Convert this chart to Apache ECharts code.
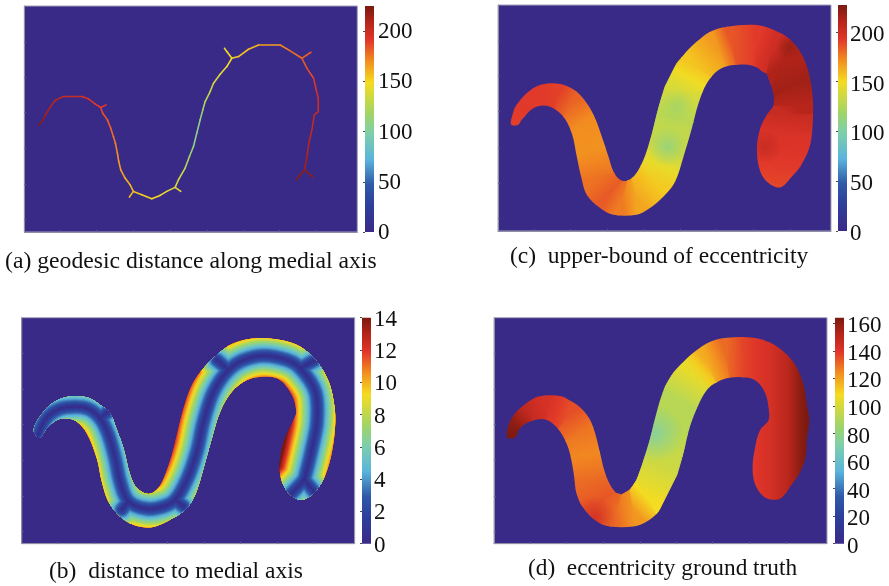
<!DOCTYPE html>
<html><head><meta charset="utf-8">
<script src="https://cdn.jsdelivr.net/npm/echarts@6/dist/echarts.min.js"></script>
<style>html,body{margin:0;background:#fff}#c{width:889px;height:586px}</style>
</head><body><div id="c"></div>
<script>
// colour scale: position on the bar, colour
const colormap = [[0,'#3a2a88'],[0.12,'#2d3f9c'],[0.21,'#2f5aa8'],[0.32,'#5ab4dc'],[0.44,'#7fd0a8'],[0.515,'#9cd46c'],[0.66,'#f5dc20'],[0.76,'#f28a20'],[0.85,'#e0352a'],[0.93,'#b4241a'],[1,'#7a1a10']];
const plotXTicks = [108,217,327,437,547,655,765,875];
const plotYTicks = [108,215,320,428,535,642];

// (a) medial axis: x, y, geodesic distance
const aTrunk = [[115,377,222],[130,360,218],[135,347,215],[150,323,210],[163,305,207],[168,300,206],[190,290,203],[245,290,196],[265,297,194],[285,312,191],[302,323,189],[308,340,186],[322,360,183],[332,385,180],[340,410,177],[346,430,174],[352,460,170],[356,485,167],[362,510,165],[375,535,162],[390,555,159],[400,575,157],[425,585,154],[455,597,151],[480,587,147],[500,575,144],[525,563,139],[535,540,135],[555,505,128],[568,470,120],[580,440,112],[590,400,104],[600,360,110],[608,330,117],[615,305,122],[630,275,130],[640,250,134],[660,223,140],[680,200,146],[695,175,151],[715,170,154],[745,148,157],[775,135,161],[840,135,170],[865,150,175],[905,175,180],[920,205,184],[940,235,190],[948,270,195],[954,295,198],[954,335,200],[942,345,202],[935,390,204],[927,425,206],[920,470,210],[913,510,216]];
const aBranches = [
  [[913,510,216],[888,540,223]],[[913,510,216],[938,532,222]],
  [[302,323,189],[318,315,192]],
  [[400,575,157],[388,592,160]],
  [[525,563,139],[542,575,143]],
  [[695,175,151],[680,155,147],[673,145,146]],
  [[905,175,180],[932,157,184]]
];
const aTicks = [0,50,100,150,200];

// (b) medial axis and the distance bands drawn round it
const bTrunk = [[112,395],[135,345],[165,318],[200,307],[260,310],[300,340],[325,390],[345,460],[360,530],[385,590],[440,612],[490,605],[525,585],[560,525],[590,440],[610,350],[640,260],[685,195],[730,165],[790,152],[860,165],[900,190],[945,260],[950,350],[935,430],[912,525]];
const bBranches = [
  [[912,525],[870,570]],[[912,525],[945,565]],
  [[300,340],[325,320]],
  [[385,590],[365,615]],
  [[525,585],[550,605]],
  [[685,195],[650,165]],
  [[900,190],[945,165]]
];
const bLevels = [16,15,14,13.5,13,12.5,12,11.5,11,10.5,10,9.5,9,8.5,8,7.5,7,6.5,6,5.5,5,4.5,4,3.5,3,2.5,2,1.5,1,0.5,0.2];
const bOutline = [[103,385],[103,365],[120,335],[150,300],[195,277],[260,277],[300,300],[330,325],[350,375],[370,430],[390,510],[410,550],[445,568],[475,550],[495,510],[515,450],[530,390],[550,310],[575,240],[610,190],[650,150],[700,115],[770,100],[840,105],[900,125],[950,170],[985,230],[1000,290],[1005,350],[995,440],[975,510],[945,560],[905,585],[870,570],[845,530],[838,480],[850,410],[880,345],[888,320],[875,270],[840,225],[800,215],[740,225],[695,260],[660,320],[635,400],[610,490],[585,570],[555,615],[500,650],[450,668],[400,660],[360,635],[325,590],[305,530],[290,460],[260,385],[230,350],[200,340],[170,345],[140,370],[120,398]];
const bTicks = [0,2,4,6,8,10,12,14];

// (c) outline, bands of equal value (x1,y1,x2,y2,value), soft spots (x,y,radius,value)
const cOutline = [[94,375],[95,345],[110,315],[140,280],[180,255],[240,252],[285,272],[320,310],[345,355],[365,410],[385,470],[400,515],[420,540],[440,543],[465,525],[490,480],[510,420],[530,340],[550,265],[575,210],[610,165],[650,125],[690,95],[740,80],[830,75],[880,90],[925,115],[965,165],[988,230],[998,310],[995,400],[985,450],[960,500],[935,530],[900,563],[865,550],[840,515],[830,450],[840,385],[860,345],[880,315],[875,265],[850,220],[820,198],[760,195],[715,210],[680,250],[655,310],[635,385],[610,470],[585,545],[550,590],[505,628],[470,645],[400,645],[360,625],[320,585],[303,530],[290,470],[275,400],[245,345],[200,318],[160,325],[125,360],[115,375]];
const cBands = [[85,395,125,385,190],[110,305,150,345,192],[180,245,195,330,192],[245,240,225,330,190],[295,265,250,355,182],[350,340,270,395,172],[385,440,280,460,170],[410,520,295,545,178],[440,535,340,620,184],[445,535,410,660,176],[455,530,480,655,165],[480,495,560,600,155],[510,420,620,480,135],[530,340,650,370,128],[555,260,670,280,140],[600,170,700,235,156],[685,90,745,210,168],[740,70,770,200,185],[830,65,825,205,192],[885,85,860,220,200],[935,110,875,260,212],[990,210,880,300,216],[1005,315,880,320,210],[1005,345,835,345,203],[1000,400,825,400,196],[990,500,825,500,192],[940,570,860,570,188]];
const cSpots = [[562,440,60,112],[590,320,55,120],[855,440,50,204],[925,140,40,218]];
const cTicks = [0,50,100,150,200];

// (d)
const dOutline = [[82,398],[82,375],[92,345],[110,320],[135,298],[175,275],[240,273],[275,290],[305,312],[330,345],[345,385],[360,445],[372,495],[385,530],[405,560],[425,563],[445,555],[465,530],[480,495],[495,450],[510,400],[525,340],[545,270],[570,215],[610,170],[650,135],[690,110],[740,98],[820,98],[870,113],[910,140],[945,180],[970,240],[980,300],[987,348],[980,400],[975,460],[955,510],[930,545],[905,578],[880,585],[850,575],[825,540],[817,490],[825,425],[840,375],[865,345],[865,310],[855,265],[830,230],[800,218],[750,218],[710,232],[680,255],[650,310],[625,380],[600,490],[575,555],[540,615],[500,650],[460,665],[390,665],[350,650],[310,610],[290,570],[280,500],[265,430],[240,380],[210,350],[185,342],[150,350],[120,370],[105,398]];
const dBands = [[70,405,115,405,165],[85,340,125,375,160],[130,285,165,360,148],[200,265,200,350,142],[290,285,235,375,135],[345,365,255,410,128],[365,440,270,460,125],[380,510,280,540,130],[405,565,310,620,134],[425,570,390,675,130],[450,555,470,675,122],[470,525,530,630,108],[490,465,590,510,98],[520,340,625,390,92],[545,260,650,310,92],[600,170,690,250,105],[660,120,710,235,118],[730,90,750,225,130],[790,85,790,228,137],[791,85,791,600,137],[870,85,870,600,143],[920,85,920,600,150],[960,85,960,600,160],[995,85,995,600,167]];
const dSpots = [[525,385,85,74],[345,640,65,144]];
const dTicks = [0,20,40,60,80,100,120,140,160];

function colorOf(v, max){
  const t = Math.max(0, Math.min(1, v / max));
  for (let i = 1; i < colormap.length; i++) {
    if (t <= colormap[i][0]) {
      const a = colormap[i-1], b = colormap[i];
      return echarts.color.lerp((t - a[0]) / (b[0] - a[0]), [a[1], b[1]]);
    }
  }
  return colormap[colormap.length-1][1];
}
const panels = [
  {x0:73, y0:18, left:24.3,top:6,  max:225,ticks:aTicks,barLeft:365,labelMargin:4,labelDrop:1},
  {x0:54, y0:15, left:498, top:5,  max:227,ticks:cTicks,barLeft:838,labelMargin:3,labelDrop:3},
  {x0:65, y0:38, left:21.7,top:317.7,max:14,ticks:bTicks,barLeft:362,labelMargin:3,labelDrop:2},
  {x0:42, y0:38, left:494, top:317.7,max:164,ticks:dTicks,barLeft:835,labelMargin:3,labelDrop:3}
];
const PW = 333, PH = 226, ZW = 998, ZH = 679, BAND_PER_UNIT = 6, SMOOTH = 0.35;
const grid = [], xAxis = [], yAxis = [], series = [];
panels.forEach(p => {
  grid.push({left:p.left, top:p.top, width:PW, height:PH, show:true, backgroundColor:colormap[0][1], borderWidth:1, borderColor:'#a3a3b8'});
  const axisBase = {
    type:'value', axisLabel:{show:false}, splitLine:{show:false},
    axisLine:{show:true, lineStyle:{color:'#8f8fa8', width:1}}
  };
  xAxis.push(Object.assign({}, axisBase, {gridIndex:grid.length-1, min:p.x0, max:p.x0+ZW,
    axisTick:{show:true, inside:true, length:2, lineStyle:{color:'#5c5796'}, customValues:plotXTicks.map(v=>v+p.x0)}}));
  yAxis.push(Object.assign({}, axisBase, {gridIndex:grid.length-1, inverse:true, min:p.y0, max:p.y0+ZH,
    axisTick:{show:true, inside:true, length:2, lineStyle:{color:'#5c5796'}, customValues:plotYTicks.map(v=>v+p.y0)}}));
});
panels.forEach(p => {
  grid.push({left:p.barLeft, top:p.top, width:9, height:PH, show:false});
  xAxis.push({type:'value', gridIndex:grid.length-1, min:0, max:1, show:false});
  yAxis.push({type:'value', gridIndex:grid.length-1, min:0, max:p.max, position:'right',
    axisLine:{show:false}, splitLine:{show:false}, axisLabel:{show:false},
    axisTick:{show:true, inside:true, length:2, lineStyle:{color:'#4a4a4a'}, customValues:p.ticks}});
});
// tick labels sit on a copy of each colour-bar axis, set a little lower as in the figure
panels.forEach(p => {
  grid.push({left:p.barLeft, top:p.top+p.labelDrop, width:9, height:PH, show:false});
  xAxis.push({type:'value', gridIndex:grid.length-1, min:0, max:1, show:false});
  yAxis.push({type:'value', gridIndex:grid.length-1, min:0, max:p.max, position:'right',
    axisLine:{show:false}, splitLine:{show:false}, axisTick:{show:false},
    axisLabel:{show:true, margin:p.labelMargin, color:'#111', fontFamily:'Liberation Serif', fontSize:23, customValues:p.ticks}});
});
function clipOf(outline, api){
  return {type:'polygon', shape:{points:outline.map(q => api.coord(q)), smooth:SMOOTH}};
}
function addBands(idx, bands, outline, max){
  series.push({type:'custom', xAxisIndex:idx, yAxisIndex:idx, silent:true, clip:false, animation:false,
    data:bands.slice(0,-1).map((b,i)=>[b[0],b[1],i]),
    encode:{x:0,y:1},
    renderItem(params, api){
      const i = api.value(2), a = bands[i], b = bands[i+1];
      const p1 = api.coord([a[0],a[1]]), p2 = api.coord([a[2],a[3]]), p3 = api.coord([b[2],b[3]]), p4 = api.coord([b[0],b[1]]);
      const m1 = [(p1[0]+p2[0])/2,(p1[1]+p2[1])/2], m2 = [(p3[0]+p4[0])/2,(p3[1]+p4[1])/2];
      const mid = (a[4]+b[4])/2;
      const grad = new echarts.graphic.LinearGradient(m1[0],m1[1],m2[0],m2[1],[
        {offset:0,color:colorOf(a[4],max)},{offset:0.5,color:colorOf(mid,max)},{offset:1,color:colorOf(b[4],max)}],true);
      return {type:'polygon', shape:{points:[p1,p2,p3,p4]}, style:{fill:grad, stroke:grad, lineWidth:1}, clipPath:clipOf(outline,api)};
    }});
}
function addSpots(idx, spots, outline, max){
  series.push({type:'custom', xAxisIndex:idx, yAxisIndex:idx, silent:true, clip:false, animation:false,
    data:spots.map(s=>[s[0],s[1],s[2],s[3]]), encode:{x:0,y:1},
    renderItem(params, api){
      const c = api.coord([api.value(0),api.value(1)]), r = api.size([api.value(2),0])[0], col = colorOf(api.value(3),max);
      const grad = new echarts.graphic.RadialGradient(c[0],c[1],r,[
        {offset:0,color:echarts.color.modifyAlpha(col,0.9)},{offset:1,color:echarts.color.modifyAlpha(col,0)}],true);
      return {type:'circle', shape:{cx:c[0],cy:c[1],r:r}, style:{fill:grad}, clipPath:clipOf(outline,api)};
    }});
}
// (a) axis segments coloured by value
const aSegments = [];
[aTrunk].concat(aBranches).forEach(path => {
  for (let i = 0; i + 1 < path.length; i++) aSegments.push([path[i][0],path[i][1],path[i+1][0],path[i+1][1],(path[i][2]+path[i+1][2])/2]);
});
series.push({type:'custom', xAxisIndex:0, yAxisIndex:0, silent:true, animation:false,
  data:aSegments, encode:{x:0,y:1},
  renderItem(params, api){
    const p1 = api.coord([api.value(0),api.value(1)]), p2 = api.coord([api.value(2),api.value(3)]);
    return {type:'line', shape:{x1:p1[0],y1:p1[1],x2:p2[0],y2:p2[1]}, style:{stroke:colorOf(api.value(4),225), lineWidth:1.6, lineCap:'round'}};
  }});
// (c), (d)
addBands(1, cBands, cOutline, 227); addSpots(1, cSpots, cOutline, 227);
addBands(3, dBands, dOutline, 164); addSpots(3, dSpots, dOutline, 164);
// (b) nested distance bands
series.push({type:'custom', xAxisIndex:2, yAxisIndex:2, silent:true, animation:false, clip:false,
  data:bLevels.map(l=>[bTrunk[0][0],bTrunk[0][1],l]), encode:{x:0,y:1},
  renderItem(params, api){
    const d = api.value(2), w = api.size([2*d*BAND_PER_UNIT,0])[0], col = colorOf(d,14);
    const style = {fill:null, stroke:col, lineWidth:w, lineCap:'round', lineJoin:'round'};
    const children = [bTrunk].concat(bBranches).map(path => ({type:'polyline', shape:{points:path.map(q=>api.coord(q)), smooth:path.length>2?SMOOTH:0}, style}));
    return {type:'group', children, clipPath:clipOf(bOutline,api)};
  }});
// colour bars
panels.forEach((p,i) => {
  series.push({type:'custom', xAxisIndex:4+i, yAxisIndex:4+i, silent:true, animation:false,
    data:[[0,p.max]], encode:{x:0,y:1},
    renderItem(params, api){
      const tl = api.coord([0,p.max]), br = api.coord([1,0]);
      const grad = new echarts.graphic.LinearGradient(0,1,0,0,colormap.map(s=>({offset:s[0],color:s[1]})));
      return {type:'rect', shape:{x:tl[0],y:tl[1],width:br[0]-tl[0],height:br[1]-tl[1]}, style:{fill:grad}};
    }});
});
const captions = [
  ['(a) geodesic distance along medial axis',5,250,23.7],
  ['(c)  upper-bound of eccentricity',510,245,23.5],
  ['(b)  distance to medial axis',49,560,23.5],
  ['(d)  eccentricity ground truth',528,557,23.3]
];
const chart = echarts.init(document.getElementById('c'), null, {renderer:'canvas'});
chart.setOption({
  animation:false, backgroundColor:'#fff',
  title:captions.map(c=>({text:c[0], left:c[1], top:c[2], padding:0, textStyle:{fontFamily:'Liberation Serif', fontWeight:'normal', fontSize:c[3], color:'#111'}})),
  grid, xAxis, yAxis, series
});
</script></body></html>
